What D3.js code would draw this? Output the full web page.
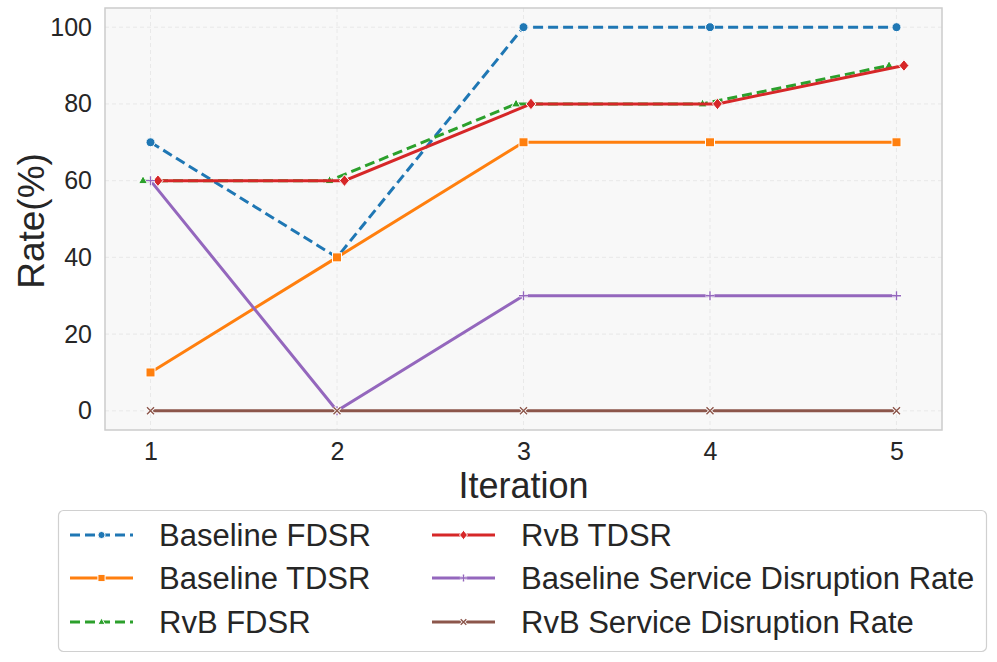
<!DOCTYPE html>
<html>
<head>
<meta charset="utf-8">
<script src="https://cdn.jsdelivr.net/npm/d3@7"></script>
<style>
  body { margin: 0; background: #fff; }
  text { font-family: "Liberation Sans", Arial, sans-serif; fill: #262626; }
</style>
</head>
<body>
<div id="chart"></div>
<script>
// ---------- data ----------
const iterations = [1, 2, 3, 4, 5];
const yTicks = [0, 20, 40, 60, 80, 100];

const baselineFDSR = [70, 40, 100, 100, 100];
const baselineTDSR = [10, 40, 70, 70, 70];
const rvbFDSR = [60, 60, 80, 80, 90];
const rvbTDSR = [60, 60, 80, 80, 90];
const baselineSDR = [60, 0, 30, 30, 30];
const rvbSDR = [0, 0, 0, 0, 0];

const seriesNames = [
  'Baseline FDSR', 'Baseline TDSR', 'RvB FDSR',
  'RvB TDSR', 'Baseline Service Disruption Rate', 'RvB Service Disruption Rate'
];
const seriesValues = [baselineFDSR, baselineTDSR, rvbFDSR, rvbTDSR, baselineSDR, rvbSDR];

// styles (colour, dash, marker, small x shift so overlapping lines stay visible)
const styles = [
  { color: '#1f77b4', dash: '10,5', marker: 'circle', shift: 0 },
  { color: '#ff7f0e', dash: null, marker: 'square', shift: 0 },
  { color: '#2ca02c', dash: '10,5', marker: 'triangle', shift: -0.04 },
  { color: '#d62728', dash: null, marker: 'diamond', shift: 0.04 },
  { color: '#9467bd', dash: null, marker: 'plus', shift: 0 },
  { color: '#8c564b', dash: null, marker: 'cross', shift: 0 }
];

// ---------- layout ----------
const W = 997, H = 662;
const plot = { left: 105, right: 942, top: 8, bottom: 430 };

const svg = d3.select('#chart').append('svg')
  .attr('width', W).attr('height', H);

const x = d3.scaleLinear().domain([0.756, 5.244]).range([plot.left, plot.right]);
const y = d3.scaleLinear().domain([-5, 105]).range([plot.bottom, plot.top]);

// background
svg.append('rect')
  .attr('x', plot.left).attr('y', plot.top)
  .attr('width', plot.right - plot.left).attr('height', plot.bottom - plot.top)
  .attr('fill', '#f8f8f8');

// grid
const grid = svg.append('g').attr('stroke', '#e4e4e4').attr('stroke-width', 0.8)
  .attr('stroke-dasharray', '4,3');
grid.selectAll('.gx').data(iterations).join('line')
  .attr('x1', d => x(d)).attr('x2', d => x(d))
  .attr('y1', plot.top).attr('y2', plot.bottom);
grid.selectAll('.gy').data(yTicks).join('line')
  .attr('y1', d => y(d)).attr('y2', d => y(d))
  .attr('x1', plot.left).attr('x2', plot.right);

// axes (labels only, whitegrid style)
const xAxis = svg.append('g').attr('transform', `translate(0,${plot.bottom})`)
  .call(d3.axisBottom(x).tickValues(iterations).tickFormat(d3.format('d')).tickSize(0).tickPadding(12));
const yAxis = svg.append('g').attr('transform', `translate(${plot.left},0)`)
  .call(d3.axisLeft(y).tickValues(yTicks).tickSize(0).tickPadding(13));
[xAxis, yAxis].forEach(a => {
  a.select('.domain').remove();
  a.selectAll('text').attr('font-size', 25).attr('fill', '#262626')
    .attr('font-family', '"Liberation Sans", Arial, sans-serif');
});

svg.append('text').attr('x', (plot.left + plot.right) / 2).attr('y', 498)
  .attr('text-anchor', 'middle').attr('font-size', 36).text('Iteration');
svg.append('text')
  .attr('transform', `translate(44,${(plot.top + plot.bottom) / 2 + 2}) rotate(-90)`)
  .attr('text-anchor', 'middle').attr('font-size', 37).text('Rate(%)');

// ---------- markers ----------
function drawMarker(g, type, color, cx, cy, s) {
  s = s || 1;
  if (type === 'circle') {
    g.append('circle').attr('cx', cx).attr('cy', cy).attr('r', 4.5 * s)
      .attr('fill', color).attr('stroke', '#fff').attr('stroke-width', 1);
  } else if (type === 'square') {
    g.append('rect').attr('x', cx - 4.5 * s).attr('y', cy - 4.5 * s)
      .attr('width', 9 * s).attr('height', 9 * s)
      .attr('fill', color).attr('stroke', '#fff').attr('stroke-width', 1);
  } else if (type === 'triangle') {
    const r = 5 * s;
    g.append('path')
      .attr('d', `M${cx},${cy - r}L${cx + r * 0.9},${cy + r * 0.6}L${cx - r * 0.9},${cy + r * 0.6}Z`)
      .attr('fill', color).attr('stroke', '#fff').attr('stroke-width', 1);
  } else if (type === 'diamond') {
    const r = 5.8 * s;
    g.append('path')
      .attr('d', `M${cx},${cy - r}L${cx + r * 0.85},${cy}L${cx},${cy + r}L${cx - r * 0.85},${cy}Z`)
      .attr('fill', color).attr('stroke', '#fff').attr('stroke-width', 1);
  } else if (type === 'plus') {
    const r = 4.5 * s;
    const d = `M${cx - r},${cy}H${cx + r}M${cx},${cy - r}V${cy + r}`;
    g.append('path').attr('d', d).attr('stroke', '#fff').attr('stroke-width', 3);
    g.append('path').attr('d', d).attr('stroke', color).attr('stroke-width', 1.4);
  } else if (type === 'cross') {
    const r = 3.5 * s;
    const d = `M${cx - r},${cy - r}L${cx + r},${cy + r}M${cx - r},${cy + r}L${cx + r},${cy - r}`;
    g.append('path').attr('d', d).attr('stroke', '#fff').attr('stroke-width', 3);
    g.append('path').attr('d', d).attr('stroke', color).attr('stroke-width', 1.4);
  }
}

// ---------- lines ----------
const line = d3.line().x(d => x(d.x)).y(d => y(d.y));

seriesValues.forEach((vals, i) => {
  const st = styles[i];
  const pts = vals.map((v, j) => ({ x: iterations[j] + st.shift, y: v }));
  const g = svg.append('g');
  g.append('path').datum(pts)
    .attr('d', line)
    .attr('fill', 'none')
    .attr('stroke', st.color)
    .attr('stroke-width', 3)
    .attr('stroke-dasharray', st.dash);
  pts.forEach(p => drawMarker(g, st.marker, st.color, x(p.x), y(p.y)));
});

// frame
svg.append('rect')
  .attr('x', plot.left).attr('y', plot.top)
  .attr('width', plot.right - plot.left).attr('height', plot.bottom - plot.top)
  .attr('fill', 'none').attr('stroke', '#cccccc').attr('stroke-width', 1.5);

// ---------- legend ----------
const legend = svg.append('g');
legend.append('rect')
  .attr('x', 58.5).attr('y', 510.5).attr('width', 928).attr('height', 141)
  .attr('rx', 5).attr('fill', '#fff').attr('stroke', '#d0d0d0').attr('stroke-width', 1.2);

const colX = [70, 432];
const rowY = [535, 578, 622];
seriesNames.forEach((name, i) => {
  const st = styles[i];
  const col = Math.floor(i / 3), row = i % 3;
  const lx = colX[col], ly = rowY[row];
  legend.append('line')
    .attr('x1', lx).attr('x2', lx + 63).attr('y1', ly).attr('y2', ly)
    .attr('stroke', st.color).attr('stroke-width', 3)
    .attr('stroke-dasharray', st.dash);
  drawMarker(legend, st.marker, st.color, lx + 31.5, ly, 0.8);
  legend.append('text').attr('x', lx + 89).attr('y', ly + 11)
    .attr('font-size', 31).text(name);
});
</script>
</body>
</html>
